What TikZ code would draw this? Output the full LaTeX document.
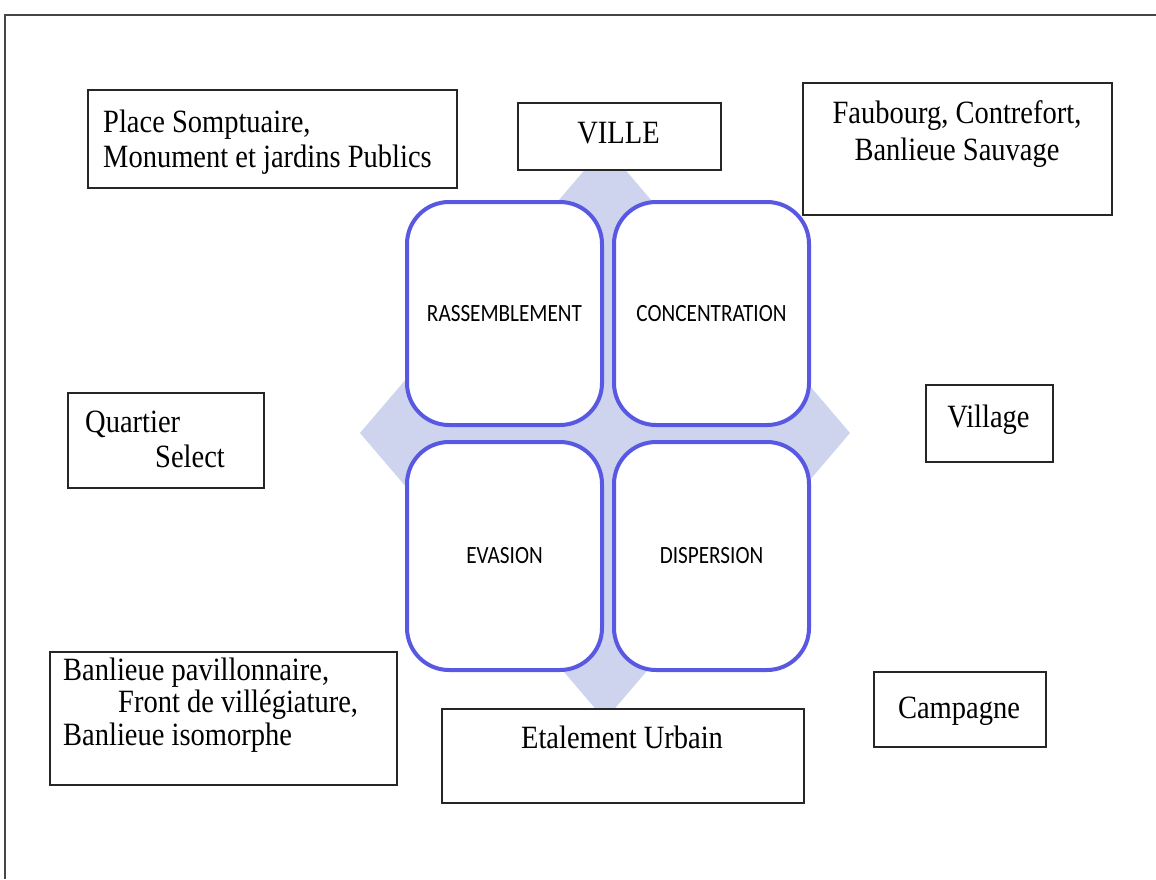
\documentclass[tikz,border=0pt]{standalone}
\usepackage{fontspec}
\usepackage{graphicx}
\setmainfont{Liberation Serif}
\newfontfamily\calibfont{Carlito}
\definecolor{quadblue}{RGB}{88,88,226}
\definecolor{diamfill}{RGB}{206,212,238}
\definecolor{framegray}{RGB}{70,70,70}
\newcommand{\stx}[1]{\scalebox{1}[1.14]{#1}}
\newcommand{\sty}[1]{\scalebox{1}[1.17]{#1}}
\tikzset{
  serifbox/.style={draw=black!85, line width=1.6pt, fill=white, rectangle, inner sep=0pt, anchor=north west},
  quadbox/.style={draw=quadblue, line width=4pt, fill=white, rectangle, rounded corners=42pt, inner sep=0pt, anchor=north west, font=\calibfont\fontsize{21.2}{24}\selectfont},
  sertext/.style={inner sep=0pt, font=\fontsize{28.5}{34}\selectfont},
  frameline/.style={draw=framegray, line width=2.6pt}
}
\begin{document}
\begin{tikzpicture}[x=1pt,y=-1pt]
\useasboundingbox (0,0) rectangle (1156,879);
% frame
\coordinate (fr0) at (5,879);
\coordinate (fr1) at (5,15);
\coordinate (fr2) at (1156,15);
\draw[frameline] (fr0) -- (fr1) -- (fr2);
% diamond background
\fill[diamfill] (360,433) -- (605,146) -- (850,433) -- (605,720) -- cycle;
% four rounded quadrants
\node[quadbox, minimum width=195pt, minimum height=223pt] (q1) at (405,200) {\sty{RASSEMBLEMENT}};
\node[quadbox, minimum width=195pt, minimum height=223pt] (q2) at (612,200) {\sty{CONCENTRATION}};
\node[quadbox, minimum width=195pt, minimum height=228pt] (q3) at (405,440) {\sty{EVASION}};
\node[quadbox, minimum width=195pt, minimum height=228pt] (q4) at (612,440) {\sty{DISPERSION}};
% serif boxes
\node[serifbox, minimum width=369pt, minimum height=98pt] (place) at (87,89) {};
\node[sertext, anchor=base west] (placeA) at (103,132) {\stx{Place Somptuaire,}};
\node[sertext, anchor=base west] (placeB) at (103,167) {\stx{Monument et jardins Publics}};

\node[serifbox, minimum width=203pt, minimum height=67pt] (ville) at (517,102) {};
\node[sertext, anchor=base] (villeT) at (618.5,143) {\stx{VILLE}};

\node[serifbox, minimum width=309pt, minimum height=132pt] (faub) at (802,82) {};
\node[sertext, anchor=base] (faubA) at (957,123) {\stx{Faubourg, Contrefort,}};
\node[sertext, anchor=base] (faubB) at (957,160) {\stx{Banlieue Sauvage}};

\node[serifbox, minimum width=196pt, minimum height=95pt] (quart) at (67,392) {};
\node[sertext, anchor=base west] (quartA) at (85,432) {\stx{Quartier}};
\node[sertext, anchor=base west] (quartB) at (155,467) {\stx{Select}};

\node[serifbox, minimum width=127pt, minimum height=77pt] (village) at (925,384) {};
\node[sertext, anchor=base] (villageT) at (988.5,427) {\stx{Village}};

\node[serifbox, minimum width=347pt, minimum height=133pt] (banl) at (49,651) {};
\node[sertext, anchor=base west] (banlA) at (63,680) {\stx{Banlieue pavillonnaire,}};
\node[sertext, anchor=base west] (banlB) at (118,712) {\stx{Front de villégiature,}};
\node[sertext, anchor=base west] (banlC) at (63,745) {\stx{Banlieue isomorphe}};

\node[serifbox, minimum width=362pt, minimum height=94pt] (etal) at (441,708) {};
\node[sertext, anchor=base] (etalT) at (622,748) {\stx{Etalement Urbain}};

\node[serifbox, minimum width=172pt, minimum height=75pt] (camp) at (873,671) {};
\node[sertext, anchor=base] (campT) at (959,718) {\stx{Campagne}};
\end{tikzpicture}
\end{document}
